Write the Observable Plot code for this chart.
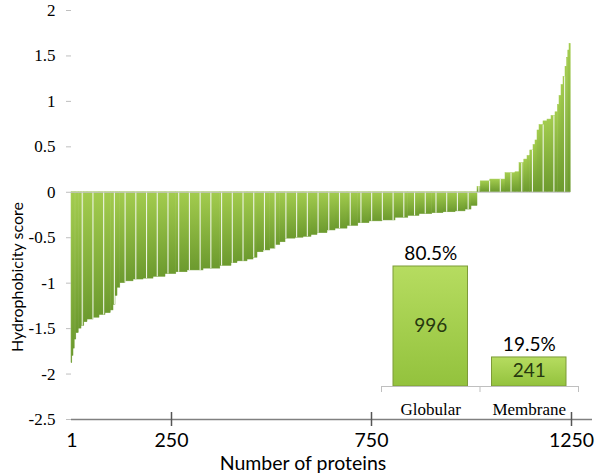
<!DOCTYPE html>
<html><head><meta charset="utf-8">
<script src="https://cdn.jsdelivr.net/npm/d3@7"></script>
<script src="https://cdn.jsdelivr.net/npm/@observablehq/plot@0.6"></script>
<style>
html,body{margin:0;padding:0;background:#fff;}
#wrap{position:relative;width:600px;height:474px;overflow:hidden;}
#wrap svg{position:absolute;left:0;top:0;}
#wrap g[aria-label="y-axis tick label"], #wrap g[aria-label="y-axis tick label"] text {
  font-family: "Liberation Serif", "Times New Roman", serif !important; font-size: 17px !important;
}
</style></head><body><div id="wrap"></div>
<script>
// Sorted hydrophobicity profile: each step starts at a protein rank
const rankStart = [0,2,5,8,12,18,25,32,40,55,70,85,98,105,110,115,122,135,155,180,205,235,262,290,330,372,400,415,440,455,465,480,497,510,522,535,560,580,600,615,640,660,690,717,745,777,810,842,870,902,930,960,985,1000,1015,1023,1047,1085,1110,1120,1132,1140,1147,1155,1160,1165,1170,1180,1190,1200,1210,1216,1220,1225,1230,1235,1239,1242,1245];
const score = [-1.88,-1.80,-1.72,-1.62,-1.55,-1.50,-1.47,-1.43,-1.40,-1.38,-1.35,-1.33,-1.30,-1.24,-1.14,-1.05,-1.00,-0.98,-0.96,-0.95,-0.93,-0.90,-0.88,-0.86,-0.84,-0.81,-0.78,-0.76,-0.74,-0.72,-0.66,-0.64,-0.62,-0.58,-0.55,-0.51,-0.50,-0.49,-0.47,-0.45,-0.42,-0.40,-0.37,-0.34,-0.32,-0.31,-0.28,-0.26,-0.24,-0.23,-0.22,-0.21,-0.19,-0.15,0.06,0.12,0.14,0.21,0.22,0.32,0.36,0.40,0.46,0.52,0.57,0.68,0.74,0.78,0.80,0.84,0.88,0.96,1.06,1.18,1.27,1.38,1.48,1.56,1.63];
const rankEnd = 1248;
const xTicks = [1, 250, 750, 1250];
const yTicks = [-2.5, -2, -1.5, -1, -0.5, 0, 0.5, 1, 1.5, 2];
// Inset: protein classes
const groups = ["Globular", "Membrane"];
const counts = [996, 241];
const shares = ["80.5%", "19.5%"];

const steps = rankStart.map((r, i) => ({
  x1: r, x2: i + 1 < rankStart.length ? rankStart[i + 1] : rankEnd, y: score[i]
}));
const gapEvery = 26.8;
const gaps = d3.range(gapEvery, rankEnd - 2, gapEvery).map(g => ({
  x: g, y: score[d3.bisectRight(rankStart, g) - 1]
}));

const main = Plot.plot({
  width: 600, height: 474,
  marginLeft: 71, marginRight: 8, marginTop: 10, marginBottom: 55,
  x: {type: "linear", domain: [0, 1250], range: [71, 571]},
  y: {domain: [-2.5, 2]},
  style: {background: "transparent", overflow: "visible"},
  marks: [
    Plot.rectY(steps, {x1: "x1", x2: "x2", y: "y", fill: "url(#barGrad)", stroke: "url(#barGrad)", strokeWidth: 0.5}),
    Plot.ruleX(gaps, {x: "x", y1: 0, y2: "y", stroke: "#eef4e4", strokeWidth: 1.1}),
    Plot.ruleY([0], {x1: 0, x2: rankEnd, stroke: "#c4c4c4"}),
    Plot.ruleY([-2.5], {stroke: "#808080", strokeWidth: 1.5}),
    Plot.axisY({ticks: yTicks, tickFormat: d => String(d), tickSize: 5, tickPadding: 11,
      stroke: "#bfbfbf", fill: "#000", fontSize: 17, fontFamily: "Liberation Serif", line: true, label: null}),
    Plot.axisX({ticks: xTicks, tickFormat: d => String(d), tickSize: 0, tickPadding: 14,
      fill: "#000", fontSize: 19.5, fontFamily: "Lato", label: null}),
    Plot.ruleX(xTicks.slice(1), {y1: -2.5, y2: -2.5, insetTop: -7, insetBottom: -7, stroke: "#555", strokeWidth: 1.5}),
    Plot.text(["Number of proteins"], {frameAnchor: "bottom", textAnchor: "middle", lineAnchor: "middle", dx: -29, dy: 44, fontSize: 19.5, fontFamily: "Lato", fill: "#000"}),
    Plot.text(["Hydrophobicity score"], {frameAnchor: "left", textAnchor: "middle", lineAnchor: "middle", rotate: -90, dx: -54, dy: 62, fontSize: 16, fontFamily: "Lato", fill: "#000"})
  ]
});

const insetRows = groups.map((g, i) => ({i, group: g, n: counts[i], share: shares[i]}));
const inset = Plot.plot({
  width: 600, height: 474,
  marginLeft: 381, marginRight: 22, marginTop: 266, marginBottom: 88,
  x: {domain: [0, groups.length], axis: null},
  y: {domain: [0, d3.max(counts)], axis: null},
  style: {background: "transparent", overflow: "visible"},
  marks: [
    Plot.rectY(insetRows, {x1: "i", x2: d => d.i + 1, y: "n", insetLeft: 12, insetRight: 12,
      fill: "url(#insetGrad)", stroke: "#7d9b38", strokeWidth: 1}),
    Plot.ruleY([0], {stroke: "#bfbfbf"}),
    Plot.ruleX(d3.range(groups.length + 1), {y1: 0, y2: 0, insetBottom: -6, stroke: "#bfbfbf"}),
    Plot.text(insetRows, {x: d => d.i + 0.5, y: "n", text: "share", dy: -13, fontSize: 19, fontFamily: "Lato", fill: "#000"}),
    Plot.text(insetRows, {x: d => d.i + 0.5, y: d => d.n / 2, text: d => String(d.n), dy: -1, fontSize: 19, fontFamily: "Lato", fill: "#26380f"}),
    Plot.text(insetRows, {x: d => d.i + 0.5, frameAnchor: "bottom", dy: 28, text: "group", fontSize: 17, fontFamily: "Liberation Serif", fill: "#000"})
  ]
});

const wrap = document.getElementById("wrap");
wrap.appendChild(main);
wrap.appendChild(inset);
d3.select(main).insert("defs", ":first-child").html(`
  <linearGradient id="barGrad" x1="0" y1="0" x2="0" y2="1">
    <stop offset="0" stop-color="#a3cc4e"/><stop offset="1" stop-color="#6c9a2e"/>
  </linearGradient>
  <linearGradient id="insetGrad" x1="0" y1="0" x2="0" y2="1">
    <stop offset="0" stop-color="#b6dc60"/><stop offset="1" stop-color="#93c23d"/>
  </linearGradient>`);
</script>
</body></html>
